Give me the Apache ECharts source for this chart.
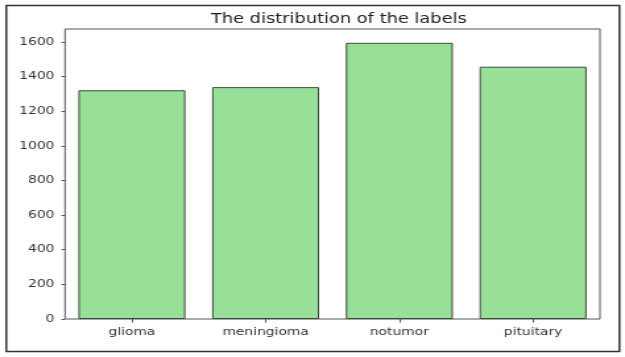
<!DOCTYPE html>
<html>
<head>
<meta charset="utf-8">
<script src="https://cdn.jsdelivr.net/npm/echarts@6/dist/echarts.min.js"></script>
<style>
html,body{margin:0;padding:0;background:#fff;overflow:hidden;}
#wrap{width:625px;height:357px;overflow:hidden;}
#c{width:474px;height:357px;transform:scaleX(1.31857);transform-origin:0 0;}
</style>
</head>
<body>
<div id="wrap"><div id="c"></div></div>
<script>
const categories = ['glioma', 'meningioma', 'notumor', 'pituitary'];
const counts = [1321, 1339, 1595, 1457];
const yTicks = [0, 200, 400, 600, 800, 1000, 1200, 1400, 1600];
const titleText = 'The distribution of the labels';

const yMax = Math.max(...counts) * 1.05;
const chart = echarts.init(document.getElementById('c'), null, {renderer: 'canvas'});
chart.setOption({
  animation: false,
  backgroundColor: '#fff',
  title: {
    text: titleText,
    left: 252, textAlign: 'center', top: 7,
    textStyle: {fontFamily: 'DejaVu Sans', fontSize: 13.5, fontWeight: 'normal', color: '#222'}
  },
  graphic: [{
    type: 'rect', left: 2.3, top: 3, silent: true,
    shape: {width: 465, height: 346},
    style: {fill: 'none', stroke: '#333', lineWidth: 1.5}
  }],
  grid: {left: 49.3, right: 19, top: 29, bottom: 38, show: true, borderColor: '#555', borderWidth: 1, backgroundColor: 'transparent'},
  xAxis: {
    type: 'category', data: categories,
    axisLine: {show: false},
    axisTick: {show: true, alignWithLabel: true, length: 3.5, lineStyle: {color: '#555'}},
    axisLabel: {fontFamily: 'DejaVu Sans', fontSize: 10.5, color: '#333', margin: 8}
  },
  yAxis: {
    type: 'value', min: 0, max: yMax,
    splitLine: {show: false},
    axisLine: {show: false},
    axisTick: {show: true, length: 2.7, lineStyle: {color: '#555'}, customValues: yTicks},
    axisLabel: {fontFamily: 'DejaVu Sans', fontSize: 10.5, color: '#333', margin: 8, customValues: yTicks,
      formatter: v => String(Math.round(v))}
  },
  series: [{
    type: 'bar', data: counts, barWidth: '80%',
    itemStyle: {color: '#98df98', borderColor: '#3d4a3d', borderWidth: 1}
  }]
});
</script>
</body>
</html>
